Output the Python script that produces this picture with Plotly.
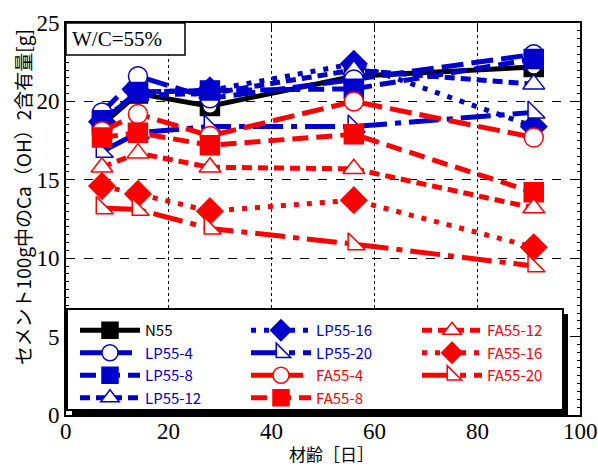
import plotly.graph_objects as go

days = [7, 14, 28, 56, 91]

n55 = [18.5, 20.5, 19.7, 21.6, 22.2]
lp55_4 = [19.3, 21.6, 20.2, 21.4, 23.0]
lp55_8 = [18.8, 20.6, 20.7, 20.8, 22.7]
lp55_12 = [18.9, 20.4, 20.5, 22.0, 21.1]
lp55_16 = [18.7, 20.6, 20.7, 22.4, 18.4]
lp55_20 = [16.8, 18.0, 18.4, 18.4, 19.3]
fa55_4 = [18.1, 19.2, 17.8, 20.0, 17.7]
fa55_8 = [17.7, 18.0, 17.2, 17.9, 14.2]
fa55_12 = [15.8, 16.7, 15.8, 15.7, 13.2]
fa55_16 = [14.6, 14.1, 13.0, 13.7, 10.7]
fa55_20 = [13.2, 13.1, 11.9, 10.9, 9.5]

x_ticks = [0, 20, 40, 60, 80, 100]
y_ticks = [0, 5, 10, 15, 20, 25]

BLUE = "#0000CC"
RED = "#FF0000"
BLACK = "#000000"

DASH_LONG = "22px,8px"
DASH_MID = "16px,8px"
DASH_SHORT = "10px,6px"
DASH_DOT = "5px,8px"
DASH_LDOT = "30px,8px,6px,8px"

# name, values, color, symbol, filled, dash, legend, legend rank
series = [
    ("N55", n55, BLACK, "square", True, "solid", "legend", 1),
    ("LP55-16", lp55_16, BLUE, "diamond", True, DASH_DOT, "legend2", 5),
    ("LP55-12", lp55_12, BLUE, "triangle-up", False, DASH_SHORT, "legend", 4),
    ("LP55-4", lp55_4, BLUE, "circle", False, DASH_LONG, "legend", 2),
    ("LP55-8", lp55_8, BLUE, "square", True, DASH_MID, "legend", 3),
    ("LP55-20", lp55_20, BLUE, "triangle-sw", False, DASH_LDOT, "legend2", 6),
    ("FA55-4", fa55_4, RED, "circle", False, DASH_LONG, "legend2", 7),
    ("FA55-8", fa55_8, RED, "square", True, DASH_MID, "legend2", 8),
    ("FA55-12", fa55_12, RED, "triangle-up", False, DASH_SHORT, "legend3", 9),
    ("FA55-16", fa55_16, RED, "diamond", True, DASH_DOT, "legend3", 10),
    ("FA55-20", fa55_20, RED, "triangle-sw", False, DASH_LDOT, "legend3", 11),
]

fig = go.Figure()
for name, vals, color, symbol, filled, dash, leg, rank in series:
    fig.add_trace(go.Scatter(
        x=days, y=vals, mode="lines+markers",
        name=f"<span style='color:{color}'>{name}</span>",
        legend=leg, legendrank=rank,
        line=dict(color=color, width=5, dash=dash),
        marker=dict(symbol=symbol, size=19 if symbol != "diamond" else 20,
                    color=color if filled else "white",
                    line=dict(color=color, width=1.5)),
    ))
    if name == "N55":
        fig.add_trace(go.Scatter(
            x=days, y=vals, mode="markers", showlegend=False, hoverinfo="skip",
            marker=dict(symbol="circle", size=14, color="white",
                        line=dict(color=BLACK, width=1)),
        ))

L, R, T, B = 66, 18, 23, 51
W, H = 598, 466
pw, ph = W - L - R, H - T - B

def px(xp):
    return (xp - L) / pw

def py(yp):
    return (H - B - yp) / ph

legend_common = dict(
    bgcolor="rgba(0,0,0,0)", borderwidth=0, yanchor="top", xanchor="left",
    font=dict(family="Noto Sans CJK JP", size=15, color=BLACK),
    tracegroupgap=0, itemwidth=60, itemclick=False,
)

tick_font = dict(family="Liberation Serif", size=23, color=BLACK)

annotations = [
    dict(text="W/C=55%", xref="paper", yref="paper", x=px(70), y=py(39),
         xanchor="left", yanchor="middle", showarrow=False,
         font=dict(family="Liberation Serif", size=21, color=BLACK)),
    dict(text="材齢［日］", xref="paper", yref="paper", x=px(331), y=py(453),
         xanchor="center", yanchor="middle", showarrow=False,
         font=dict(family="Noto Sans CJK JP", size=17, color=BLACK)),
    dict(text="セメント100g中のCa（OH）2含有量[g]", xref="paper", yref="paper",
         x=px(22), y=py(197), textangle=-90,
         xanchor="center", yanchor="middle", showarrow=False,
         font=dict(family="Noto Sans CJK JP", size=19, color=BLACK)),
]
for v in x_ticks:
    annotations.append(dict(text=str(v), xref="x", yref="paper", x=v, y=py(431),
                            xanchor="center", yanchor="middle", showarrow=False,
                            font=tick_font))

fig.update_layout(
    width=W, height=H,
    margin=dict(l=L, r=R, t=T, b=B),
    paper_bgcolor="white", plot_bgcolor="white",
    showlegend=True,
    legend=dict(x=px(75), y=py(314), **legend_common),
    legend2=dict(x=px(246), y=py(314), **legend_common),
    legend3=dict(x=px(417), y=py(314), **legend_common),
    xaxis=dict(
        range=[0, 100], tickvals=x_ticks, showticklabels=False,
        showgrid=True, gridcolor=BLACK, gridwidth=1, griddash="dot",
        showline=True, linecolor=BLACK, linewidth=2, mirror="allticks",
        ticks="inside", ticklen=6, tickcolor=BLACK,
        zeroline=False,
    ),
    yaxis=dict(
        range=[0, 25], tickvals=y_ticks, ticktext=[str(v) for v in y_ticks],
        showgrid=True, gridcolor=BLACK, gridwidth=1, griddash="dash",
        showline=True, linecolor=BLACK, linewidth=2, mirror="allticks",
        ticks="inside", ticklen=8, tickcolor=BLACK,
        minor=dict(dtick=0.5, ticks="inside", ticklen=3, tickcolor=BLACK, showgrid=False),
        tickfont=tick_font,
        zeroline=False,
    ),
    shapes=[
        # legend shadow
        dict(type="rect", xref="paper", yref="paper", layer="above",
             x0=px(72), x1=px(568), y0=py(415), y1=py(314),
             fillcolor=BLACK, line=dict(width=0)),
        # legend box
        dict(type="rect", xref="paper", yref="paper", layer="above",
             x0=px(67), x1=px(563), y0=py(410), y1=py(309),
             fillcolor="white", line=dict(color=BLACK, width=2)),
        # W/C box
        dict(type="rect", xref="paper", yref="paper", layer="above",
             x0=0, x1=px(185), y0=py(55), y1=1,
             fillcolor="white", line=dict(color=BLACK, width=1.5)),
    ],
    annotations=annotations,
)

fig.write_html("out.html")
